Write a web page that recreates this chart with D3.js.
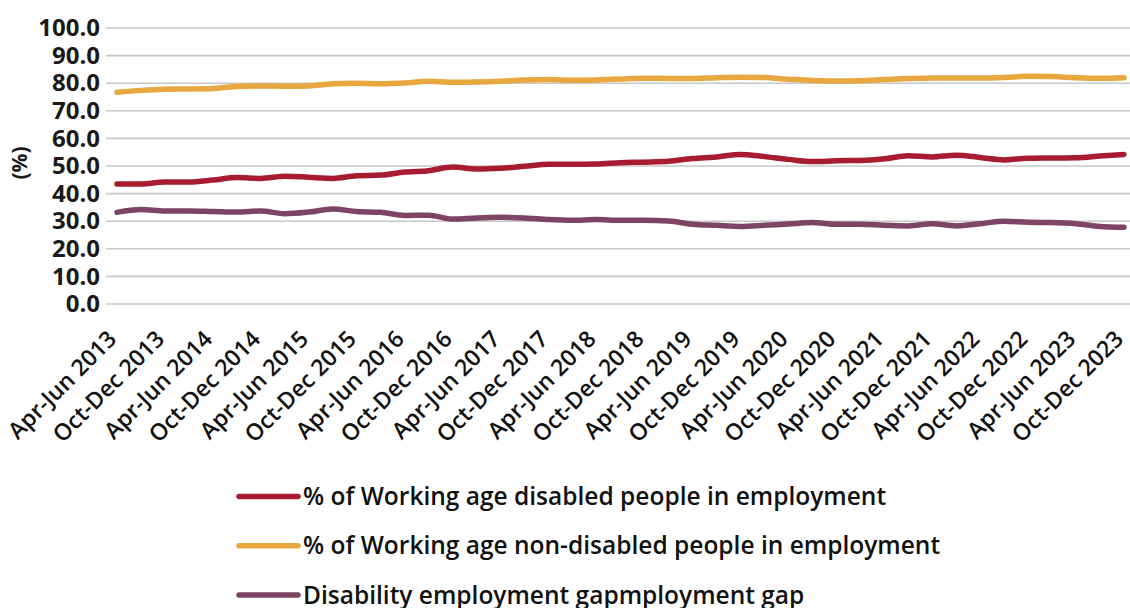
<!DOCTYPE html>
<html><head><meta charset="utf-8">
<script src="https://cdn.jsdelivr.net/npm/d3@7"></script>
<style>
html,body{margin:0;padding:0;background:#fff;}
svg{display:block;font-family:"Open Sans","Noto Sans",sans-serif;}
</style></head>
<body><svg id="chart" width="1130" height="608"></svg>
<script>
const quarters = [];
const qNames = ["Jan-Mar","Apr-Jun","Jul-Sep","Oct-Dec"];
for (let y = 2013; y <= 2023; y++) for (let q = 0; q < 4; q++) {
  if (y === 2013 && q === 0) continue;
  quarters.push(qNames[q] + " " + y);
}
const disabled = [43.5,43.5,44.2,44.2,44.9,45.8,45.5,46.3,45.9,45.5,46.5,46.7,47.8,48.3,49.6,48.9,49.2,49.9,50.6,50.6,50.7,51.2,51.4,51.7,52.7,53.3,54.2,53.4,52.4,51.6,51.9,52.0,52.6,53.7,53.3,53.9,53.1,52.2,52.8,52.9,53.0,53.6,54.2];
const nonDisabled = [76.7,77.4,77.8,77.9,78.1,78.8,79.0,78.9,79.0,79.8,80.0,79.8,80.1,80.7,80.3,80.4,80.7,81.2,81.3,81.1,81.2,81.5,81.8,81.7,81.7,82.0,82.2,82.1,81.4,81.0,80.8,80.9,81.3,81.7,81.9,81.9,81.9,82.1,82.5,82.4,82.0,81.8,82.0];
const gap = [33.2,34.2,33.7,33.7,33.5,33.3,33.7,32.7,33.3,34.4,33.5,33.2,32.1,32.2,30.8,31.2,31.4,31.2,30.6,30.3,30.6,30.3,30.3,30.1,28.9,28.5,28.1,28.5,29.0,29.5,28.9,28.9,28.5,28.3,29.1,28.3,29.1,30.0,29.6,29.5,29.1,28.1,27.8];
const yTicks = [0,10,20,30,40,50,60,70,80,90,100];
const seriesNames = ["% of Working age disabled people in employment","% of Working age non-disabled people in employment","Disability employment gapmployment gap"];
const seriesColors = ["#A71C31","#E8A73F","#7E4466"];
const seriesData = [disabled, nonDisabled, gap];

const svg = d3.select("#chart");
const x = d3.scalePoint().domain(quarters).range([117, 1124]);
const y = d3.scaleLinear().domain([0,100]).range([304, 28]);

// gridlines
svg.append("g").selectAll("line").data(yTicks).join("line")
  .attr("x1",106).attr("x2",1130)
  .attr("y1",d=>y(d)).attr("y2",d=>y(d))
  .attr("stroke","#c8c8c8").attr("stroke-width",1.6);

// y axis labels
const yAxis = d3.axisLeft(y).tickValues(yTicks).tickFormat(d=>d.toFixed(1)).tickSize(0).tickPadding(0);
const gy = svg.append("g").attr("transform","translate(100,0)").call(yAxis);
gy.select(".domain").remove();
gy.selectAll("text").attr("font-size",24).attr("font-weight",700).attr("fill","#1a1a1a")
  .attr("font-family",'"Open Sans","Noto Sans",sans-serif');

svg.append("text").attr("transform","translate(27,163) rotate(-90)")
  .attr("text-anchor","middle").attr("font-size",21).attr("font-weight",700).attr("fill","#1a1a1a")
  .text("(%)");

// x axis labels
const xLabels = quarters.filter((d,i)=>i%2===0);
const xAxis = d3.axisBottom(x).tickValues(xLabels).tickSize(0).tickPadding(0);
const gx = svg.append("g").attr("transform","translate(-11,329)").call(xAxis);
gx.select(".domain").remove();
gx.selectAll("text").attr("font-size",23).attr("font-weight",600).attr("fill","#111")
  .attr("font-family",'"Open Sans","Noto Sans",sans-serif')
  .attr("text-anchor","end").attr("dy","0.7em")
  .attr("transform","rotate(-45)");

// lines
const line = d3.line().x((d,i)=>x(quarters[i])).y(d=>y(d)).curve(d3.curveMonotoneX);
seriesData.forEach((s,k)=>{
  svg.append("path").datum(s).attr("d",line).attr("fill","none")
    .attr("stroke",seriesColors[k]).attr("stroke-width",5.5)
    .attr("stroke-linecap","round").attr("stroke-linejoin","round");
});

// legend
const lg = svg.append("g");
seriesNames.forEach((n,k)=>{
  const yy = 496.5 + k*49.3;
  lg.append("line").attr("x1",239).attr("x2",298).attr("y1",yy).attr("y2",yy)
    .attr("stroke",seriesColors[k]).attr("stroke-width",5.5).attr("stroke-linecap","round");
  lg.append("text").attr("x",303).attr("y",yy).attr("dy","0.35em")
    .attr("font-size",24.5).attr("font-weight",600).attr("fill","#111").text(n);
});
</script></body></html>
